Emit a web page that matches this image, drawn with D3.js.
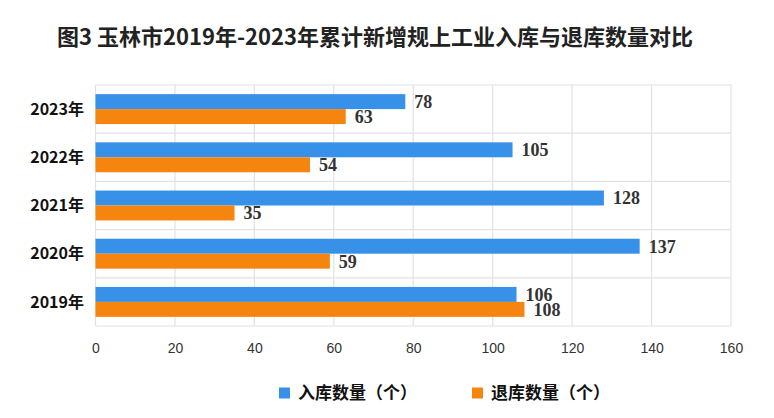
<!DOCTYPE html>
<html><head><meta charset="utf-8">
<script src="https://cdn.jsdelivr.net/npm/d3@7"></script>
<style>body{margin:0;background:#fff}</style>
</head><body>
<svg id="c" width="774" height="418"></svg>
<script>
const titleText = "图3 玉林市2019年-2023年累计新增规上工业入库与退库数量对比";
const categories = ["2023年","2022年","2021年","2020年","2019年"];
const seriesNames = ["入库数量（个）","退库数量（个）"];
const inValues = [78,105,128,137,106];
const outValues = [63,54,35,59,108];
const xTicks = [0,20,40,60,80,100,120,140,160];
const colors = ["#3891e8","#f5850f"];

const svg = d3.select("#c");
const cjk = "'Noto Sans CJK SC','Liberation Sans',sans-serif";
const m = {left:95.5, right:731, top:85, bottom:326};

svg.append("text").attr("x",375).attr("y",45).attr("text-anchor","middle")
  .attr("font-family",cjk).attr("font-weight","bold").attr("font-size",22).attr("fill","#222")
  .text(titleText);

const x = d3.scaleLinear().domain([0,160]).range([m.left,m.right]);
const y = d3.scaleBand().domain(categories).range([m.top,m.bottom]);
const inner = d3.scaleBand().domain([0,1]).range([0,y.bandwidth()]).paddingOuter(0.61).paddingInner(0);

const grid = svg.append("g");
grid.selectAll("line.v").data(xTicks).join("line")
  .attr("x1",d=>x(d)).attr("x2",d=>x(d)).attr("y1",m.top).attr("y2",m.bottom)
  .attr("stroke","#e2e2e2").attr("stroke-width",1.2);
const hb = categories.map(c=>y(c)).concat([m.bottom]);
grid.selectAll("line.h").data(hb).join("line")
  .attr("x1",m.left).attr("x2",m.right).attr("y1",d=>d).attr("y2",d=>d)
  .attr("stroke","#e2e2e2").attr("stroke-width",1.2);

const series = [inValues,outValues];
series.forEach((vals,si)=>{
  const g = svg.append("g");
  g.selectAll("rect").data(categories).join("rect")
    .attr("x",x(0)).attr("y",(c)=>y(c)+inner(si))
    .attr("width",(c,i)=>x(vals[i])-x(0)).attr("height",inner.bandwidth())
    .attr("fill",colors[si]);
  g.selectAll("text").data(categories).join("text")
    .attr("x",(c,i)=>x(vals[i])+9).attr("y",(c)=>y(c)+inner(si)+inner.bandwidth()/2)
    .attr("dy","0.36em")
    .attr("font-family","'Liberation Serif','Times New Roman',serif").attr("font-weight","bold")
    .attr("font-size",18).attr("fill","#333")
    .text((c,i)=>vals[i]);
});

// y axis labels
svg.append("g").selectAll("text").data(categories).join("text")
  .attr("x",84).attr("y",c=>y(c)+y.bandwidth()/2).attr("dy","0.36em").attr("text-anchor","end")
  .attr("font-family",cjk).attr("font-weight","bold").attr("font-size",16).attr("fill","#111")
  .text(c=>c);

// x axis
const xa = svg.append("g").attr("transform",`translate(0,${m.bottom})`)
  .call(d3.axisBottom(x).tickValues(xTicks).tickSize(0).tickPadding(17));
xa.select(".domain").remove();
xa.selectAll("text").attr("font-family","'Liberation Sans',sans-serif").attr("font-size",14).attr("fill","#333");

// legend
const leg = svg.append("g");
const lx = [279,472];
seriesNames.forEach((n,i)=>{
  leg.append("rect").attr("x",lx[i]).attr("y",387.5).attr("width",11).attr("height",11).attr("fill",colors[i]);
  leg.append("text").attr("x",lx[i]+19).attr("y",393).attr("dy","0.36em")
    .attr("font-family",cjk).attr("font-weight","bold").attr("font-size",17).attr("fill","#111").text(n);
});
</script>
</body></html>
